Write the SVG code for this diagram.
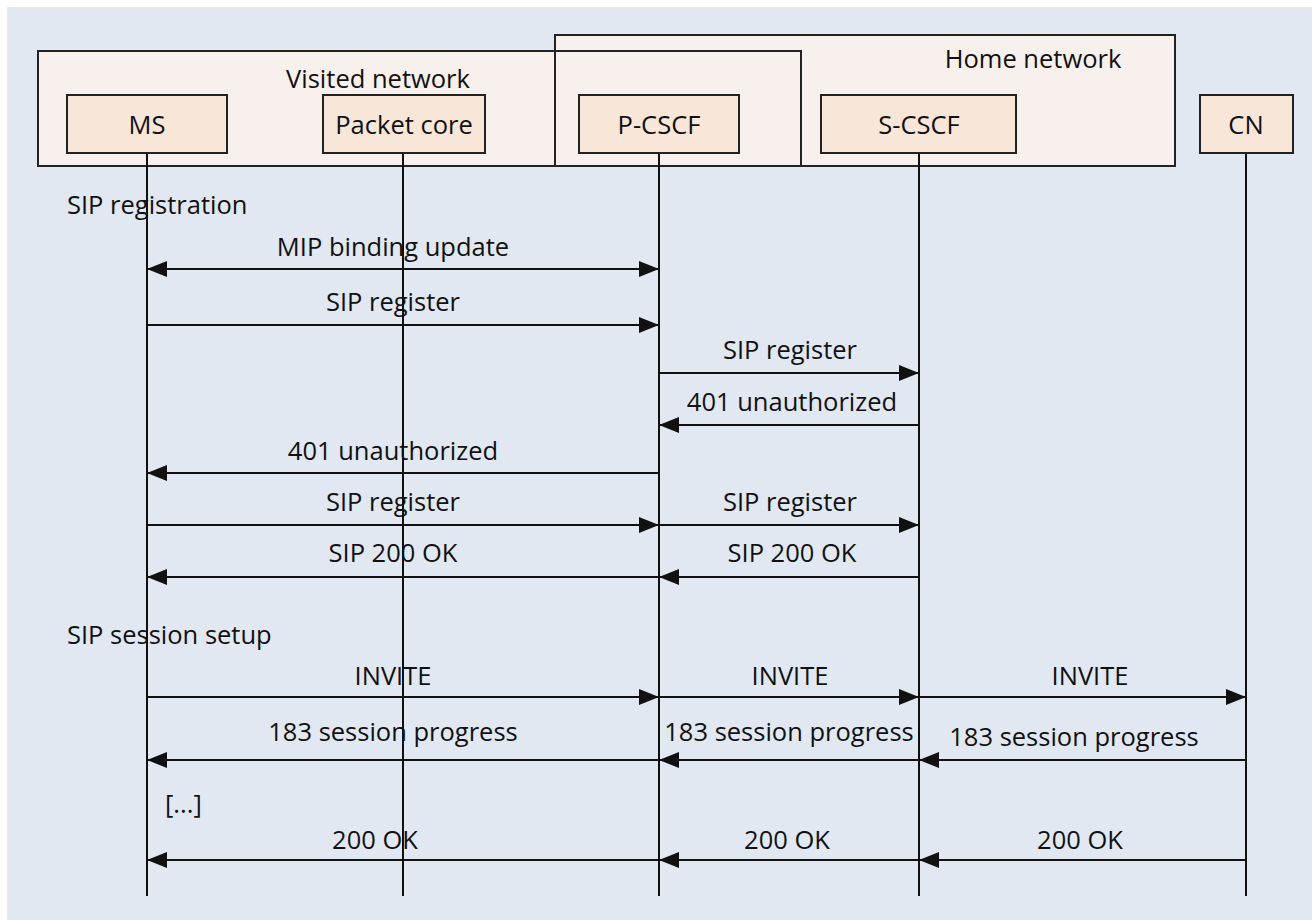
<svg xmlns="http://www.w3.org/2000/svg" width="1312" height="920" viewBox="0 0 1312 920">
  <style>
    .net { fill: #f8f0ec; stroke: none; }
    .netline { fill: none; stroke: #222; stroke-width: 2; }
    .node { fill: #f8e6d9; stroke: #222; stroke-width: 2; }
    .life { stroke: #111; stroke-width: 2; fill: none; }
    .msg { stroke: #111; stroke-width: 2; fill: none; }
    text { font-family: "Open Sans", "Liberation Sans", sans-serif; font-size: 25.5px; fill: #111; }
    .c { text-anchor: middle; }
  </style>
  <defs>
    <marker id="ah" viewBox="0 0 20 16" refX="20" refY="8" markerWidth="20" markerHeight="16" markerUnits="userSpaceOnUse" orient="auto-start-reverse">
      <path d="M0,0 L20,8 L0,16 z" fill="#111"/>
    </marker>
  </defs>

  <!-- page -->
  <rect x="0" y="0" width="1312" height="920" fill="#ffffff"/>
  <rect x="7" y="7" width="1305" height="913" fill="#e1e8f2"/>

  <!-- network domains -->
  <g id="domains">
    <rect class="net" x="38" y="51" width="763" height="115"/>
    <rect class="net" x="555" y="35" width="620" height="131"/>
    <rect class="netline" x="38" y="51" width="763" height="115"/>
    <rect class="netline" x="555" y="35" width="620" height="131"/>
    <text class="c" x="378" y="88">Visited network</text>
    <text class="c" x="1033" y="68">Home network</text>
  </g>

  <!-- lifelines -->
  <g id="lifelines">
    <line class="life" x1="147" y1="153" x2="147" y2="896"/>
    <line class="life" x1="403" y1="153" x2="403" y2="896"/>
    <line class="life" x1="659" y1="153" x2="659" y2="896"/>
    <line class="life" x1="919" y1="153" x2="919" y2="896"/>
    <line class="life" x1="1246" y1="153" x2="1246" y2="896"/>
  </g>

  <g id="ms">
    <rect class="node" x="67" y="95" width="160" height="58"/>
    <text class="c" x="147" y="134">MS</text>
  </g>
  <g id="packet-core">
    <rect class="node" x="323" y="95" width="162" height="58"/>
    <text class="c" x="404" y="134">Packet core</text>
  </g>
  <g id="p-cscf">
    <rect class="node" x="579" y="95" width="160" height="58"/>
    <text class="c" x="659" y="134">P-CSCF</text>
  </g>
  <g id="s-cscf">
    <rect class="node" x="821" y="95" width="195" height="58"/>
    <text class="c" x="919" y="134">S-CSCF</text>
  </g>
  <g id="cn">
    <rect class="node" x="1200" y="95" width="93" height="58"/>
    <text class="c" x="1246" y="134">CN</text>
  </g>

  <!-- section labels -->
  <g id="phases">
    <text x="67" y="214">SIP registration</text>
    <text x="67" y="644">SIP session setup</text>
    <text x="165" y="813">[...]</text>
  </g>

  <!-- messages -->
  <g id="connectors">
    <line class="msg" x1="147" y1="269" x2="659" y2="269" marker-start="url(#ah)" marker-end="url(#ah)"/>
    <text class="c" x="393" y="256">MIP binding update</text>

    <line class="msg" x1="147" y1="325" x2="659" y2="325" marker-end="url(#ah)"/>
    <text class="c" x="393" y="311">SIP register</text>

    <line class="msg" x1="659" y1="373" x2="919" y2="373" marker-end="url(#ah)"/>
    <text class="c" x="790" y="359">SIP register</text>

    <line class="msg" x1="919" y1="425" x2="659" y2="425" marker-end="url(#ah)"/>
    <text class="c" x="792" y="411">401 unauthorized</text>

    <line class="msg" x1="659" y1="473" x2="147" y2="473" marker-end="url(#ah)"/>
    <text class="c" x="393" y="460">401 unauthorized</text>

    <line class="msg" x1="147" y1="525" x2="659" y2="525" marker-end="url(#ah)"/>
    <text class="c" x="393" y="511">SIP register</text>
    <line class="msg" x1="659" y1="525" x2="919" y2="525" marker-end="url(#ah)"/>
    <text class="c" x="790" y="511">SIP register</text>

    <line class="msg" x1="659" y1="577" x2="147" y2="577" marker-end="url(#ah)"/>
    <text class="c" x="393" y="562">SIP 200 OK</text>
    <line class="msg" x1="919" y1="577" x2="659" y2="577" marker-end="url(#ah)"/>
    <text class="c" x="792" y="562">SIP 200 OK</text>

    <line class="msg" x1="147" y1="697" x2="659" y2="697" marker-end="url(#ah)"/>
    <text class="c" x="393" y="685">INVITE</text>
    <line class="msg" x1="659" y1="697" x2="919" y2="697" marker-end="url(#ah)"/>
    <text class="c" x="790" y="685">INVITE</text>
    <line class="msg" x1="919" y1="697" x2="1246" y2="697" marker-end="url(#ah)"/>
    <text class="c" x="1090" y="685">INVITE</text>

    <line class="msg" x1="659" y1="760" x2="147" y2="760" marker-end="url(#ah)"/>
    <text class="c" x="393" y="741">183 session progress</text>
    <line class="msg" x1="919" y1="760" x2="659" y2="760" marker-end="url(#ah)"/>
    <text class="c" x="789" y="741">183 session progress</text>
    <line class="msg" x1="1246" y1="760" x2="919" y2="760" marker-end="url(#ah)"/>
    <text class="c" x="1074" y="746">183 session progress</text>

    <line class="msg" x1="659" y1="860" x2="147" y2="860" marker-end="url(#ah)"/>
    <text class="c" x="375" y="849">200 OK</text>
    <line class="msg" x1="919" y1="860" x2="659" y2="860" marker-end="url(#ah)"/>
    <text class="c" x="787" y="849">200 OK</text>
    <line class="msg" x1="1246" y1="860" x2="919" y2="860" marker-end="url(#ah)"/>
    <text class="c" x="1080" y="849">200 OK</text>
  </g>
</svg>
